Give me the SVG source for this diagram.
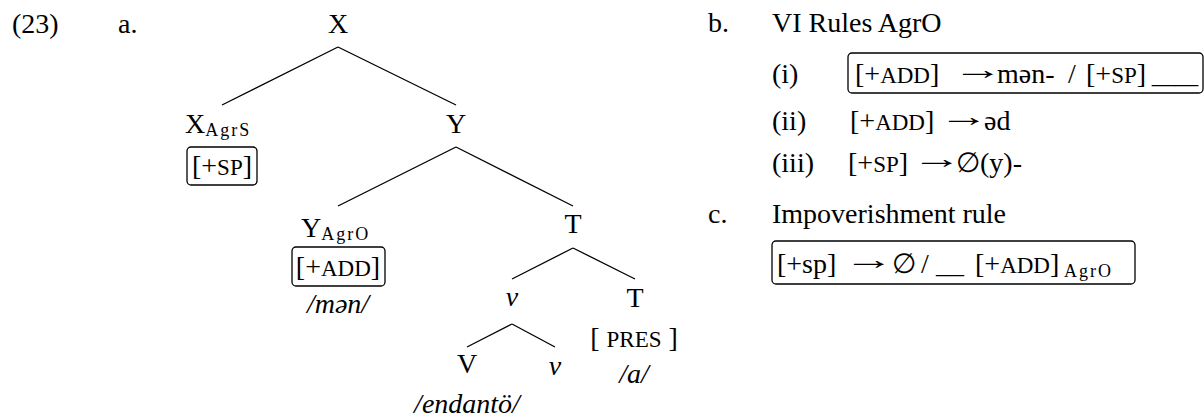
<svg xmlns="http://www.w3.org/2000/svg" width="1204" height="417" viewBox="0 0 1204 417">
<style>
text{font-family:"Liberation Serif","DejaVu Serif","Times New Roman",serif;font-size:28px;fill:#000}
.c{text-anchor:middle}
.i{font-style:italic}
.sc{font-size:23px}
.sub{font-size:18px;letter-spacing:2px}
.ar{font-family:"Liberation Sans","DejaVu Sans",sans-serif;font-size:28px}
.box{fill:none;stroke:#000;stroke-width:1.3}
.edge{stroke:#000;stroke-width:1.3;fill:none}
</style>
<rect width="1204" height="417" fill="#fff"/>
<g id="labels">
<text x="12" y="33">(23)</text>
<text x="118" y="33">a.</text>
</g>
<g id="connectors">
<line class="edge" x1="338" y1="47" x2="222" y2="105"/>
<line class="edge" x1="338" y1="47" x2="456" y2="105"/>
<line class="edge" x1="456" y1="147" x2="338" y2="206"/>
<line class="edge" x1="456" y1="147" x2="573" y2="206"/>
<line class="edge" x1="573" y1="248" x2="512" y2="279"/>
<line class="edge" x1="573" y1="248" x2="635" y2="279"/>
<line class="edge" x1="512" y1="324" x2="467" y2="347"/>
<line class="edge" x1="512" y1="324" x2="555" y2="347"/>
</g>
<g id="node-X"><text class="c" x="338" y="33">X</text></g>
<g id="node-XAgrS">
<text x="185" y="133">X<tspan class="sub" dy="3">AgrS</tspan></text>
<rect class="box" x="187" y="147" width="70" height="38" rx="4"/>
<text class="c" x="222" y="175">[+<tspan class="sc">SP</tspan>]</text>
</g>
<g id="node-Y"><text class="c" x="456" y="133">Y</text></g>
<g id="node-YAgrO">
<text x="301" y="237">Y<tspan class="sub" dy="3">AgrO</tspan></text>
<rect class="box" x="292" y="247" width="93" height="39" rx="4"/>
<text class="c" x="338" y="276">[+<tspan class="sc">ADD</tspan>]</text>
<text class="c i" x="338" y="313">/mən/</text>
</g>
<g id="node-T1"><text class="c" x="573" y="233">T</text></g>
<g id="node-v1"><text class="c i" x="512" y="306">v</text></g>
<g id="node-T2">
<text class="c" x="635" y="307">T</text>
<text class="c" x="634" y="347">[ <tspan class="sc">PRES</tspan> ]</text>
<text class="c i" x="634" y="383">/a/</text>
</g>
<g id="node-V">
<text class="c" x="467" y="373">V</text>
<text class="c i" x="467" y="413">/endantö/</text>
</g>
<g id="node-v2"><text class="c i" x="555" y="375">v</text></g>
<g id="rules-b">
<text x="708" y="32">b.</text>
<text x="772" y="32">VI Rules AgrO</text>
<text x="772" y="83">(i)</text>
<rect class="box" x="848" y="53" width="355" height="40" rx="4"/>
<text x="855" y="83">[+<tspan class="sc">ADD</tspan>]<tspan x="997">mən-</tspan><tspan x="1068">/</tspan><tspan x="1086">[+<tspan class="sc">SP</tspan>]</tspan><tspan x="1152" textLength="46" lengthAdjust="spacingAndGlyphs">__</tspan></text>
<text class="ar" transform="translate(953,79) scale(1.8,1)">→</text>
<text x="772" y="130">(ii)</text>
<text x="850" y="130">[+<tspan class="sc">ADD</tspan>]<tspan x="984">əd</tspan></text>
<text class="ar" transform="translate(939,126) scale(1.8,1)">→</text>
<text x="772" y="172">(iii)</text>
<text x="848" y="172">[+<tspan class="sc">SP</tspan>]<tspan x="956">∅(y)-</tspan></text>
<text class="ar" transform="translate(912,168) scale(1.8,1)">→</text>
</g>
<g id="rules-c">
<text x="708" y="223">c.</text>
<text x="772" y="223">Impoverishment rule</text>
<rect class="box" x="772" y="241" width="363" height="43" rx="4"/>
<text x="777" y="273">[+sp]<tspan x="892">∅</tspan><tspan x="921">/</tspan><tspan x="936">__</tspan><tspan x="975">[+<tspan class="sc">ADD</tspan>]</tspan><tspan class="sub" x="1064" dy="4">AgrO</tspan></text>
<text class="ar" transform="translate(844,269) scale(1.8,1)">→</text>
</g>
</svg>
